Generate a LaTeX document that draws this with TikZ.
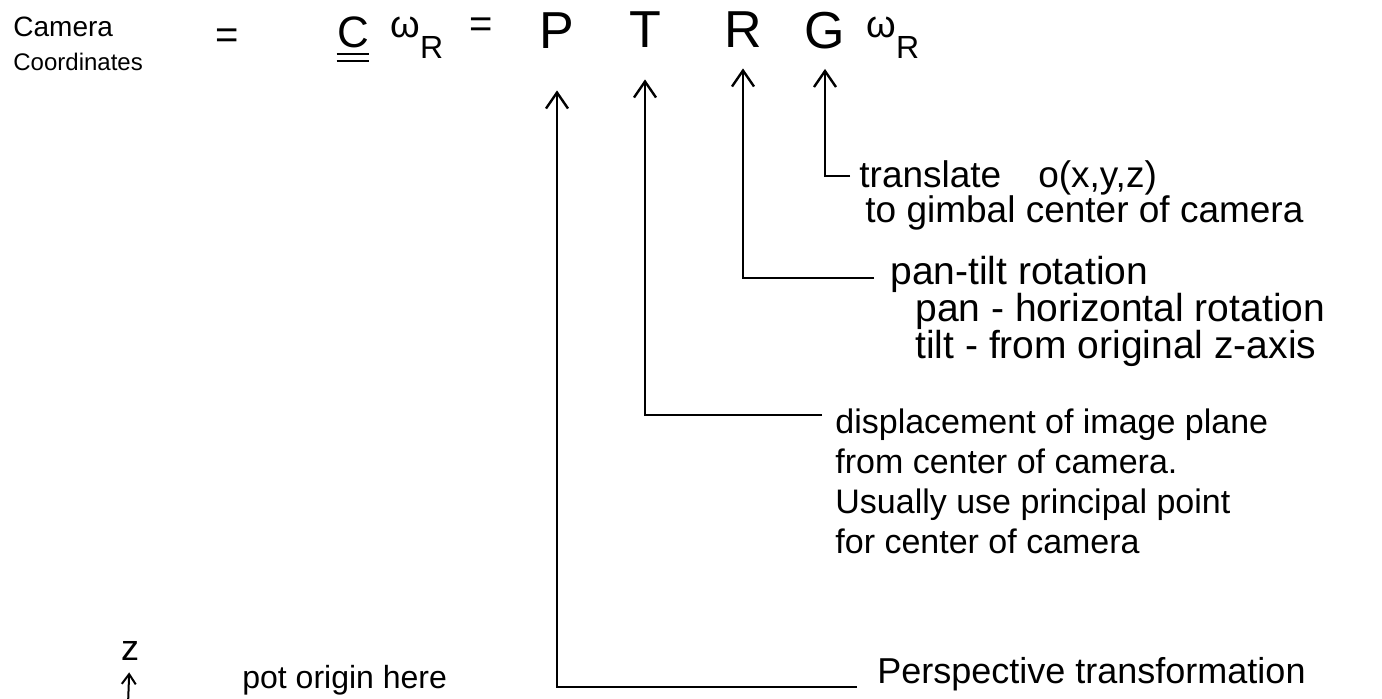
\documentclass[tikz,border=0pt]{standalone}
\usepackage{fontspec}
\setmainfont{Liberation Sans}
\usetikzlibrary{arrows.meta}
\setlength{\lineskiplimit}{-50pt}

\begin{document}
\begin{tikzpicture}[
  x=0.5pt, y=-0.5pt,
  title/.style={inner sep=0pt, anchor=north west, align=left, font=\fontsize{14}{17}\selectfont},
  sym/.style={inner sep=0pt, anchor=base, font=\fontsize{26}{30}\selectfont},
  eqs/.style={inner sep=0pt, anchor=base, font=\fontsize{20}{24}\selectfont},
  omg/.style={inner sep=0pt, anchor=base west, font=\fontsize{19}{22}\selectfont},
  note/.style={inner sep=0pt, anchor=north west, align=left},
  lead/.style={-{Straight Barb[length=8pt, width=11pt]}, line width=1.2pt},
  smalllead/.style={-{Straight Barb[length=5pt, width=7pt]}, line width=1pt},
  uline/.style={line width=1.3pt}
]
\useasboundingbox (0,0) rectangle (1382,698);

\node[title] (cam) at (13,17) {Camera\\{\fontsize{12}{17}\selectfont Coordinates}};
\node[eqs] (eqa) at (227,48) {=};
\node[sym, font=\fontsize{22}{26}\selectfont] (cc) at (353,47) {C};
\node[omg] (wa) at (390,37) {ω\raisebox{-10.5pt}{\fontsize{16}{18}\selectfont R}};
\node[eqs] (eqb) at (481,37) {=};
\node[sym] (mp) at (557,48) {P};
\node[sym] (mt) at (645,47) {T};
\node[sym] (mr) at (743,47) {R};
\node[sym] (mg) at (825,48) {G};
\node[omg] (wb) at (866,37) {ω\raisebox{-10.5pt}{\fontsize{16}{18}\selectfont R}};

\draw[uline] ([yshift=-3pt]cc.south west) -- ([yshift=-3pt]cc.south east);
\draw[uline] ([yshift=-6.5pt]cc.south west) -- ([yshift=-6.5pt]cc.south east);

\node[note, font=\fontsize{18.5}{17.5}\selectfont] (gnote) at (859,160) {translate\quad o(x,y,z)\\\hspace*{3pt}to gimbal center of camera};
\node[note, font=\fontsize{19.5}{18.5}\selectfont] (rnote) at (890,256) {pan-tilt rotation\\\hspace*{12.5pt}pan - horizontal rotation\\\hspace*{12.5pt}tilt - from original z-axis};
\node[note, font=\fontsize{17}{20}\selectfont] (tnote) at (835,408) {displacement of image plane\\from center of camera.\\Usually use principal point\\for center of camera};
\node[inner sep=0pt, anchor=base west, font=\fontsize{18}{22}\selectfont] (pnote) at (877,683) {Perspective transformation};

\node[inner sep=0pt, anchor=base, font=\fontsize{18}{22}\selectfont] (zax) at (130,660) {z};
\coordinate (zfoot) at (128,705);
\node[inner sep=0pt, anchor=base west, font=\fontsize{16}{19}\selectfont] (orig) at (242,688) {pot origin here};

\draw[lead, shorten <=4.5pt, shorten >=10pt] ([yshift=-8pt]gnote.north west) -| (mg.south);
\draw[lead, shorten <=8pt, shorten >=10.5pt] ([yshift=-11pt]rnote.north west) -| (mr.south);
\draw[lead, shorten <=6.5pt, shorten >=16pt] ([yshift=-3.5pt]tnote.north west) -| (mt.south);
\draw[lead, shorten <=10pt, shorten >=21pt] ([yshift=-2pt]pnote.base west) -| (mp.south);
\draw[smalllead, shorten >=6pt] (zfoot) -- (zax);
\end{tikzpicture}
\end{document}
